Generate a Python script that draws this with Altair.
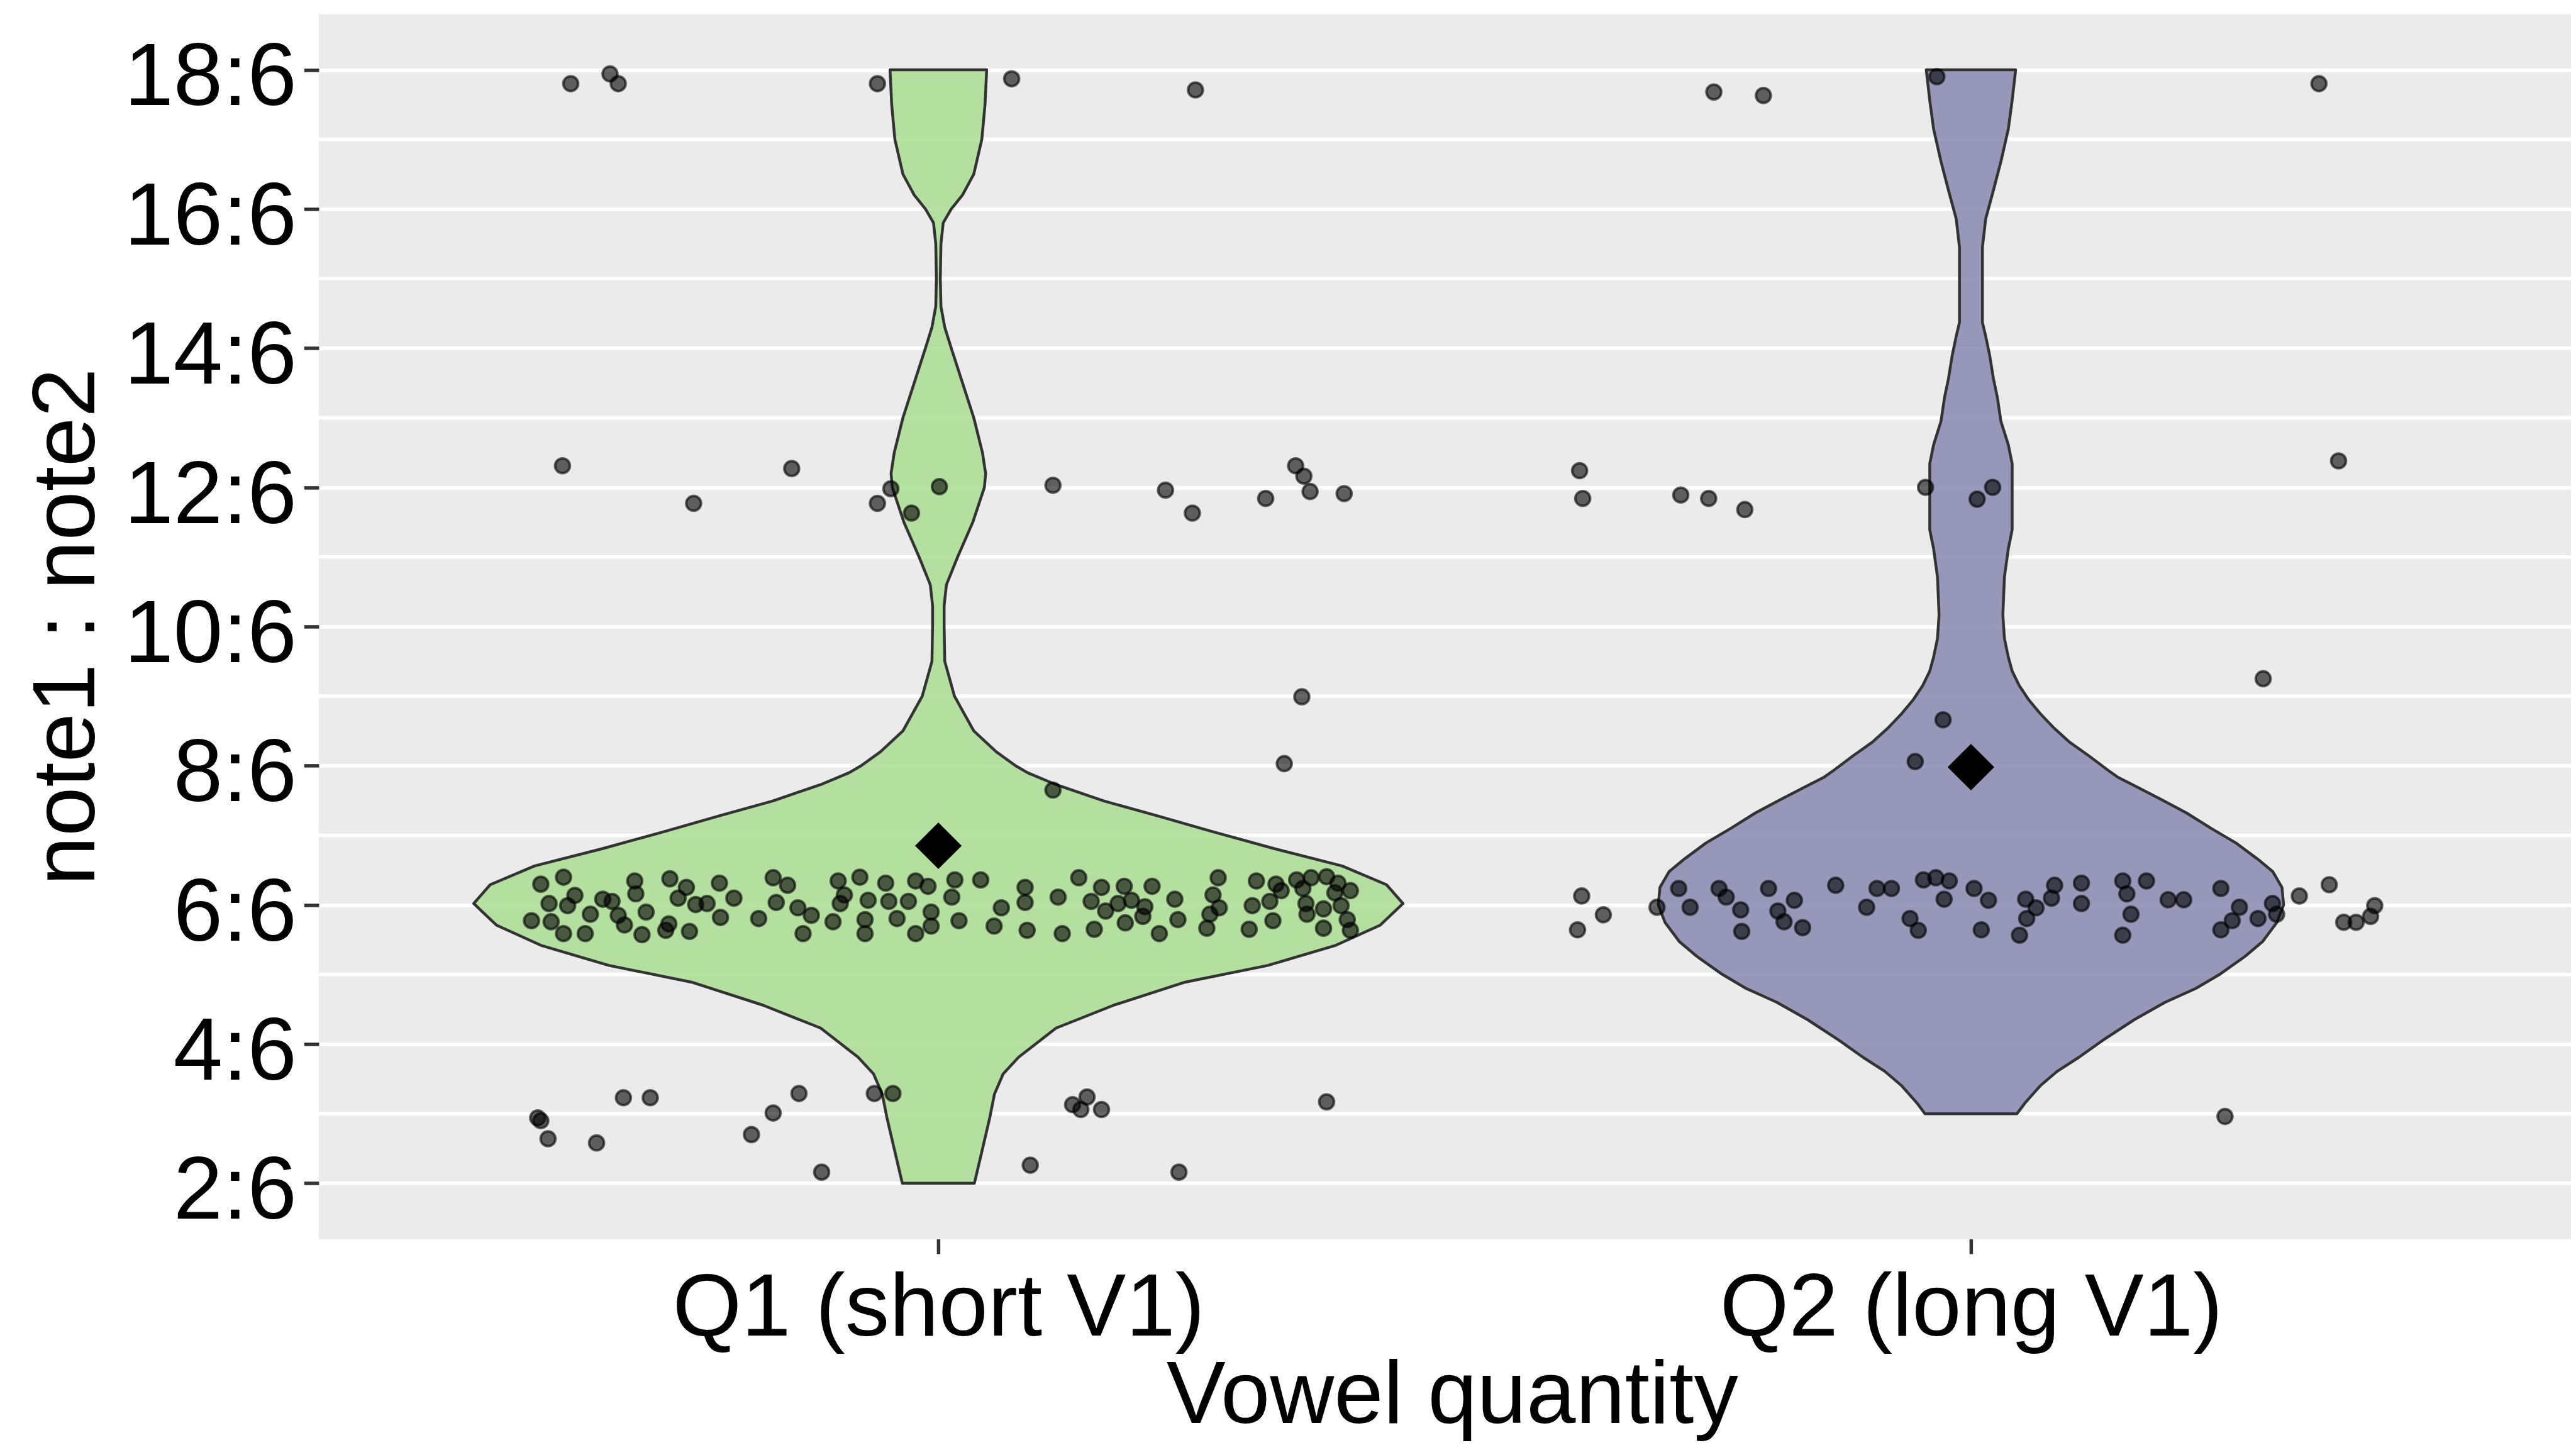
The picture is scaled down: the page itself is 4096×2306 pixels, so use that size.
import altair as alt
import pandas as pd

FONT = "Liberation Sans"

# ---------------- data ----------------
categories = ["Q1 (short V1)", "Q2 (long V1)"]
category_pos = [1, 2]
groups = ["Q1", "Q2"]
fill_colors = ["#A9DD92", "#888AB0"]

y_ticks = [2, 4, 6, 8, 10, 12, 14, 16, 18]
y_minor = [3, 5, 7, 9, 11, 13, 15, 17]

# violin outlines: note1 value and half width (in category units)
q1_violin_y = [18.0, 17.5, 17.0, 16.5, 16.2, 16.0, 15.8, 15.5, 15.0, 14.6,
               14.3, 14.0, 13.5, 13.0, 12.5, 12.2, 12.0, 11.5, 11.0, 10.6,
               10.3, 10.0, 9.5, 9.0, 8.5, 8.2, 8.0, 7.9, 7.74, 7.49,
               7.28, 7.06, 6.81, 6.56, 6.29, 6.02, 5.71, 5.42, 5.13, 4.89,
               4.56, 4.23, 3.81, 3.57, 3.28, 2.95, 2.53, 2.0]
q1_violin_hw = [0.0468, 0.0452, 0.0421, 0.0343, 0.0234, 0.0125, 0.0047, 0.0025, 0.0019, 0.0025,
                0.0062, 0.0125, 0.0234, 0.0343, 0.0427, 0.0458, 0.0446, 0.0334, 0.0187, 0.0078,
                0.0056, 0.0056, 0.0062, 0.0156, 0.0343, 0.0561, 0.0748, 0.0864, 0.112, 0.161,
                0.212, 0.264, 0.325, 0.391, 0.434, 0.450, 0.428, 0.385, 0.319, 0.239,
                0.170, 0.114, 0.0776, 0.0627, 0.0543, 0.0499, 0.0433, 0.0349]

q2_violin_y = [18.0, 17.56, 17.15, 16.68, 16.27, 15.86, 15.45, 14.37, 14.17, 13.9,
               13.56, 13.29, 12.95, 12.61, 12.34, 11.39, 11.12, 10.71, 10.17, 9.83,
               9.56, 9.36, 9.15, 8.95, 8.75, 8.54, 8.34, 8.14, 7.93, 7.83,
               7.72, 7.51, 7.32, 7.10, 6.89, 6.66, 6.48, 6.25, 6.0, 5.75,
               5.47, 5.26, 5.01, 4.80, 4.60, 4.35, 4.06, 3.81, 3.61, 3.40,
               3.15, 3.0]
q2_violin_hw = [0.0433, 0.0399, 0.0362, 0.029, 0.0218, 0.0143, 0.0111, 0.0111, 0.0143, 0.0181,
                0.0218, 0.0256, 0.029, 0.0362, 0.0399, 0.0399, 0.0362, 0.0324, 0.0309, 0.0324,
                0.0362, 0.0399, 0.0468, 0.0558, 0.067, 0.0805, 0.0954, 0.1144, 0.1332, 0.1428,
                0.1575, 0.1849, 0.2089, 0.2326, 0.2566, 0.2775, 0.2922, 0.3012, 0.3028, 0.2963,
                0.2822, 0.2654, 0.2417, 0.2177, 0.188, 0.1581, 0.1282, 0.1045, 0.0836, 0.067,
                0.0521, 0.0446]

# jittered observations (x position in category units, note1 value)
q1_points = [
    (0.644, 17.80), (0.682, 17.94), (0.690, 17.80), (0.941, 17.80), (1.071, 17.87), (1.249, 17.71),
    (0.636, 12.31), (0.763, 11.77), (0.858, 12.27), (0.941, 11.77), (0.954, 11.98), (0.974, 11.63),
    (1.001, 12.01), (1.111, 12.03), (1.220, 11.96), (1.246, 11.63), (1.317, 11.84), (1.346, 12.31),
    (1.354, 12.16), (1.360, 11.94), (1.393, 11.91),
    (1.352, 8.99), (1.335, 8.03), (1.111, 7.65),
    (0.612, 2.94), (0.615, 2.90), (0.622, 2.64), (0.669, 2.58), (0.695, 3.23), (0.721, 3.23),
    (0.819, 2.70), (0.840, 3.01), (0.865, 3.29), (0.887, 2.16), (0.938, 3.29), (0.956, 3.29),
    (1.089, 2.26), (1.130, 3.13), (1.138, 3.06), (1.144, 3.24), (1.158, 3.06), (1.233, 2.16),
    (1.376, 3.17),
    (0.637, 6.398), (0.615, 6.298), (0.648, 6.136), (0.623, 6.020), (0.641, 5.989), (0.606, 5.773),
    (0.625, 5.758), (0.637, 5.588), (0.658, 5.588), (0.663, 5.866), (0.675, 6.082), (0.706, 6.344),
    (0.707, 6.159), (0.690, 5.850), (0.713, 5.573), (0.736, 5.635), (0.759, 5.619), (0.740, 6.375),
    (0.756, 6.251), (0.748, 6.097), (0.788, 6.313), (0.802, 6.097), (0.765, 6.005), (0.776, 6.020),
    (0.789, 5.820), (0.826, 5.804), (0.840, 6.390), (0.854, 6.282), (0.843, 6.035), (0.864, 5.958),
    (0.877, 5.850), (0.869, 5.588), (0.903, 6.344), (0.924, 6.398), (0.909, 6.143), (0.905, 6.020),
    (0.898, 5.758), (0.932, 6.066), (0.949, 6.313), (0.952, 6.051), (0.929, 5.789), (0.929, 5.588),
    (0.960, 5.804), (0.978, 6.344), (0.990, 6.267), (0.971, 6.051), (0.993, 5.897), (0.993, 5.696),
    (0.978, 5.588), (1.016, 6.359), (1.013, 6.112), (1.020, 5.773), (0.739, 5.727), (0.684, 6.051),
    (0.717, 5.897), (0.696, 5.712),
    (1.041, 6.359), (1.084, 6.251), (1.084, 6.035), (1.061, 5.958), (1.054, 5.696), (1.086, 5.635),
    (1.120, 5.588), (1.151, 5.650), (1.136, 6.390), (1.116, 6.112), (1.158, 6.251), (1.180, 6.267),
    (1.207, 6.267), (1.148, 6.051), (1.174, 6.020), (1.187, 6.066), (1.200, 5.974), (1.229, 6.082),
    (1.162, 5.912), (1.198, 5.835), (1.181, 5.742), (1.214, 5.588), (1.232, 5.789), (1.271, 6.390),
    (1.266, 6.143), (1.272, 5.958), (1.263, 5.866), (1.260, 5.665), (1.308, 6.344), (1.304, 5.989),
    (1.301, 5.650), (1.327, 6.298), (1.321, 6.051), (1.324, 5.773), (1.353, 6.236), (1.361, 6.390),
    (1.376, 6.405), (1.387, 6.313), (1.356, 6.020), (1.357, 5.866), (1.373, 5.943), (1.373, 5.665),
    (1.399, 5.635), (1.390, 5.989), (1.396, 5.789), (1.399, 6.205), (1.347, 6.359), (1.332, 6.205),
    (1.384, 6.174),
]

q2_points = [
    (1.621, 12.24), (1.624, 11.84), (1.719, 11.89), (1.746, 11.84), (1.781, 11.68),
    (1.751, 17.68), (1.799, 17.63), (1.956, 12.00), (2.006, 11.83), (2.021, 12.00),
    (1.967, 17.90), (1.946, 8.06), (1.973, 8.66), (2.283, 9.25), (2.337, 17.80),
    (2.356, 12.38), (2.246, 2.96),
    (1.623, 6.128), (1.644, 5.858), (1.619, 5.642), (1.696, 5.966), (1.717, 6.236), (1.728, 5.966),
    (1.756, 6.236), (1.763, 6.112), (1.777, 5.928), (1.778, 5.619), (1.804, 6.236), (1.813, 5.912),
    (1.829, 6.066), (1.819, 5.758), (1.837, 5.673), (1.869, 6.282), (1.909, 6.236), (1.923, 6.236),
    (1.899, 5.966), (1.941, 5.804), (1.949, 5.635), (1.954, 6.359), (1.966, 6.390), (1.979, 6.344),
    (1.974, 6.082), (2.003, 6.236), (2.017, 6.066), (2.010, 5.642), (2.053, 6.082), (2.063, 5.958),
    (2.054, 5.804), (2.047, 5.565), (2.081, 6.282), (2.078, 6.097), (2.107, 6.313), (2.107, 6.020),
    (2.147, 6.344), (2.170, 6.344), (2.151, 6.159), (2.155, 5.866), (2.147, 5.565), (2.191, 6.074),
    (2.206, 6.074), (2.242, 6.236), (2.260, 5.966), (2.253, 5.773), (2.242, 5.642), (2.292, 6.020),
    (2.296, 5.866), (2.278, 5.804), (2.318, 6.128), (2.347, 6.290), (2.391, 5.989), (2.361, 5.750),
    (2.373, 5.750), (2.387, 5.835),
]

mean_values = [6.85, 7.98]

# ---------------- tables ----------------
def violin_table(center, ys, hws):
    return pd.DataFrame({
        "y": ys,
        "lo": [center - h for h in hws],
        "hi": [center + h for h in hws],
    })

q1_violin_df = violin_table(category_pos[0], q1_violin_y, q1_violin_hw)
q2_violin_df = violin_table(category_pos[1], q2_violin_y, q2_violin_hw)

pts_df = pd.DataFrame(
    [{"x": x, "y": y} for x, y in q1_points] + [{"x": x, "y": y} for x, y in q2_points]
)
mean_df = pd.DataFrame({"x": category_pos, "y": mean_values})
minor_df = pd.DataFrame({"v": y_minor})

# ---------------- scales / axes ----------------
xscale = alt.Scale(domain=[0.4, 2.581], nice=False, zero=False)
yscale = alt.Scale(domain=[1.2, 18.8], nice=False, zero=False)

W, H = 3581, 1948

label_expr_x = "datum.value == 1 ? '%s' : '%s'" % (categories[0], categories[1])

xaxis = alt.Axis(
    values=category_pos, labelExpr=label_expr_x, grid=False, domain=False,
    ticks=True, tickColor="#333333", tickWidth=5.5, tickSize=23.6,
    labelFont=FONT, labelFontSize=141, labelColor="black", labelAlign="center",
    labelBaseline="alphabetic", labelPadding=130, labelFlush=False, labelOverlap=False,
    labelLimit=3000,
    title="Vowel quantity", titleFont=FONT, titleFontSize=141, titleFontWeight="normal",
    titleColor="black", titleX=1802, titleY=292, titleBaseline="alphabetic",
    titleAlign="center", titleLimit=3000,
)
yaxis = alt.Axis(
    values=y_ticks, labelExpr="datum.value + ':6'", grid=True, gridColor="white",
    gridWidth=5.6, domain=False, ticks=True, tickColor="#333333", tickWidth=5.5,
    tickSize=23.6, labelFont=FONT, labelFontSize=141, labelColor="black",
    labelAlign="right", labelBaseline="alphabetic", labelOffset=56, labelPadding=12,
    labelOverlap=False, labelLimit=3000,
    title="note1 : note2", titleFont=FONT, titleFontSize=141, titleFontWeight="normal",
    titleColor="black", titleAngle=270, titleX=-357, titleY=H / 2,
    titleBaseline="alphabetic", titleAlign="center", titleLimit=3000,
)

# ---------------- layers ----------------
minor = alt.Chart(minor_df).mark_rule(color="white", strokeWidth=5.6).encode(
    y=alt.Y("v:Q", scale=yscale, axis=yaxis)
)

def violin_layer(df, color):
    return alt.Chart(df).mark_area(
        orient="horizontal", color=color, fill=color, fillOpacity=0.85,
        stroke="#333333", strokeWidth=4.5, strokeJoin="round",
    ).encode(
        y=alt.Y("y:Q", scale=yscale, axis=yaxis),
        x=alt.X("lo:Q", scale=xscale, axis=xaxis),
        x2="hi:Q",
    )

violin1 = violin_layer(q1_violin_df, fill_colors[0])
violin2 = violin_layer(q2_violin_df, fill_colors[1])

points = alt.Chart(pts_df).mark_point(
    shape="circle", filled=True, size=560, fill="black", fillOpacity=0.6,
    stroke="black", strokeOpacity=0.6, strokeWidth=4,
).encode(
    x=alt.X("x:Q", scale=xscale, axis=xaxis),
    y=alt.Y("y:Q", scale=yscale, axis=yaxis),
)

means = alt.Chart(mean_df).mark_point(
    shape="diamond", filled=True, size=5500, color="black", opacity=1,
).encode(
    x=alt.X("x:Q", scale=xscale, axis=xaxis),
    y=alt.Y("y:Q", scale=yscale, axis=yaxis),
)

chart = alt.layer(minor, violin1, violin2, points, means).properties(
    width=W, height=H,
    autosize=alt.AutoSizeParams(type="none"),
    padding={"left": 498.9, "top": 14.4, "right": 0, "bottom": 322},
    background="white",
).configure(
    font=FONT,
    view=alt.ViewConfig(fill="#EBEBEB", strokeWidth=0),
)

chart.save("out.html", embed_options={"renderer": "svg", "actions": False})
